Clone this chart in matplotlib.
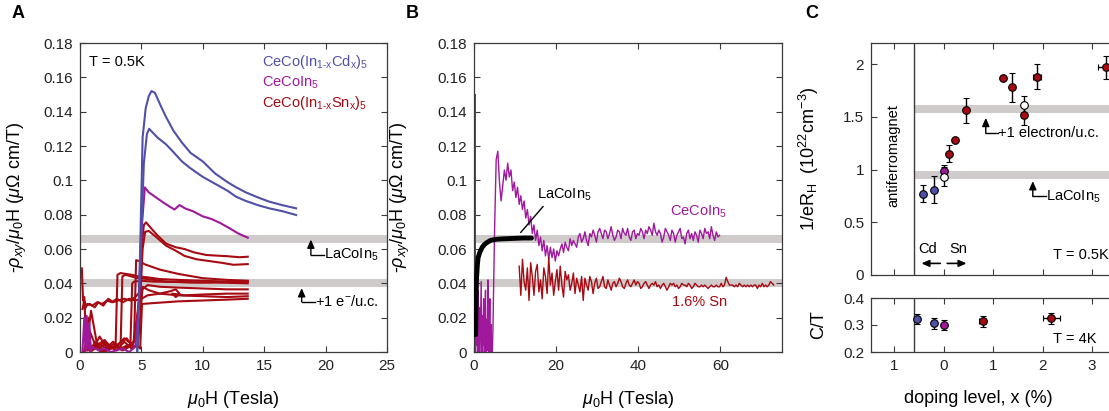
import matplotlib
matplotlib.use('Agg')
import matplotlib.pyplot as plt
import numpy as np
from matplotlib.ticker import FuncFormatter

plt.rcParams['font.family'] = ['Liberation Sans', 'DejaVu Sans']
plt.rcParams['mathtext.fontset'] = 'custom'
plt.rcParams['mathtext.rm'] = 'Liberation Sans'
plt.rcParams['mathtext.it'] = 'Liberation Sans:italic'
plt.rcParams['mathtext.bf'] = 'Liberation Sans:bold'

BLUE = '#5050a8'
PURPLE = '#a0189c'
RED = '#a60a12'
BAND = '#cfcbcb'
FRAME = '#3a3a3a'

# ---- panel A: field sweeps at 0.5 K (H in T, -rho_xy/mu0H in uOhm cm/T)
cd_hi_H = [4.65, 4.9, 5.1, 5.35, 5.6, 5.82, 6.1, 6.6, 7.0, 7.6, 8.3, 9.0, 10.0, 11.0, 12.0, 12.7, 13.5, 14.5, 15.4, 16.5, 17.6]
cd_hi_v = [-0.002, 0.06, 0.125, 0.142, 0.149, 0.152, 0.151, 0.143, 0.137, 0.129, 0.122, 0.116, 0.111, 0.104, 0.099, 0.096, 0.093, 0.090, 0.0876, 0.0855, 0.0837]
cd_lo_H = [4.65, 4.9, 5.2, 5.45, 5.63, 5.9, 6.3, 7.0, 7.58, 8.3, 9.0, 10.0, 11.0, 12.0, 12.7, 13.5, 14.5, 15.4, 16.5, 17.6]
cd_lo_v = [-0.002, 0.05, 0.11, 0.127, 0.130, 0.128, 0.125, 0.121, 0.1167, 0.111, 0.107, 0.102, 0.098, 0.094, 0.0905, 0.088, 0.0855, 0.0837, 0.082, 0.0798]

pure_A_H = [0.2, 0.35, 0.45, 0.55, 0.65, 0.75, 0.85, 1.0, 1.5, 2.0, 2.5, 3.0, 3.5, 4.0, 4.5, 4.8, 5.0, 5.28, 5.6, 6.2, 6.8, 7.3, 7.7, 8.1, 8.6, 9.2, 10.0, 10.7, 11.4, 12.2, 12.9, 13.66]
pure_A_v = [0.0, 0.02, 0.0, 0.021, 0.002, 0.017, 0.0, 0.003, 0.001, 0.002, 0.0, 0.001, 0.002, 0.0, 0.003, 0.03, 0.07, 0.0959, 0.093, 0.090, 0.087, 0.0847, 0.083, 0.0856, 0.0835, 0.082, 0.079, 0.0775, 0.0752, 0.072, 0.069, 0.0666]

sn_curves = [
    ([0.3, 0.6, 1.0, 1.5, 2.0, 2.5, 3.0, 3.5, 4.0, 4.4, 4.8, 5.0, 5.2, 5.38, 5.8, 6.3, 7.0, 7.8, 8.5, 9.3, 10.3, 11.0, 12.0, 13.0, 13.66],
     [0.0, 0.004, 0.001, 0.003, 0.0, 0.002, 0.004, 0.001, 0.003, 0.006, 0.03, 0.06, 0.074, 0.0755, 0.072, 0.068, 0.0632, 0.061, 0.060, 0.058, 0.0565, 0.0562, 0.0558, 0.0552, 0.0555]),
    ([0.4, 0.8, 1.3, 2.0, 2.8, 3.6, 4.3, 4.9, 5.1, 5.3, 5.6, 6.2, 7.0, 7.8, 8.5, 9.5, 10.5, 11.5, 12.5, 13.66],
     [0.002, 0.012, 0.003, 0.006, 0.002, 0.008, 0.004, 0.03, 0.06, 0.070, 0.0705, 0.067, 0.062, 0.059, 0.056, 0.054, 0.053, 0.052, 0.0508, 0.0512]),
    ([0.5, 1.0, 1.6, 2.2, 2.8, 3.4, 4.0, 4.4, 4.57, 4.8, 5.3, 6.5, 8.0, 10.0, 12.0, 13.66],
     [0.006, 0.001, 0.009, 0.002, 0.005, 0.001, 0.004, 0.006, 0.0535, 0.053, 0.051, 0.048, 0.0455, 0.043, 0.042, 0.0415]),
    ([0.15, 0.25, 0.35, 0.5, 0.7, 0.9, 1.2, 1.6, 2.0, 2.5, 2.9, 3.05, 3.3, 3.7, 4.2, 4.8, 5.5, 6.5, 8.0, 10.0, 12.0, 13.66],
     [0.0487, 0.03, 0.032, 0.005, 0.02, 0.0, 0.006, 0.002, 0.005, 0.002, 0.004, 0.045, 0.046, 0.0455, 0.045, 0.044, 0.0435, 0.0425, 0.042, 0.0415, 0.041, 0.041]),
    ([0.3, 0.6, 0.8, 1.3, 2.0, 2.7, 3.3, 3.45, 3.7, 4.2, 4.7, 5.5, 7.0, 9.0, 11.0, 13.66],
     [0.0, 0.008, 0.0, 0.004, 0.001, 0.003, 0.002, 0.044, 0.045, 0.044, 0.043, 0.0425, 0.041, 0.0405, 0.0405, 0.040]),
    ([0.2, 0.35, 0.5, 0.8, 1.2, 1.5, 1.9, 2.3, 2.7, 3.1, 3.6, 4.1, 4.5, 5.0, 5.5, 6.5, 8.0, 10.0, 12.0, 13.66],
     [0.025, 0.030, 0.027, 0.028, 0.026, 0.029, 0.027, 0.031, 0.029, 0.030, 0.031, 0.030, 0.032, 0.036, 0.039, 0.038, 0.0375, 0.037, 0.0365, 0.0365]),
    ([0.25, 0.4, 0.6, 1.0, 1.4, 1.8, 2.2, 2.6, 3.0, 3.5, 4.0, 4.5, 5.0, 5.5, 6.5, 7.4, 7.8, 8.1, 7.8, 7.5, 8.5, 10.0, 12.0, 13.66],
     [0.032, 0.025, 0.028, 0.027, 0.029, 0.028, 0.030, 0.029, 0.031, 0.029, 0.031, 0.030, 0.031, 0.033, 0.034, 0.0355, 0.0365, 0.034, 0.032, 0.034, 0.033, 0.0335, 0.034, 0.034]),
    ([0.5, 0.9, 1.4, 2.0, 2.6, 3.2, 3.8, 4.3, 4.7, 4.9, 5.1, 5.6, 6.5, 8.0, 10.0, 12.0, 13.66],
     [0.002, 0.024, 0.004, 0.007, 0.002, 0.005, 0.008, 0.003, 0.003, 0.02, 0.038, 0.036, 0.034, 0.033, 0.0325, 0.032, 0.0325]),
    ([0.6, 1.1, 1.7, 2.4, 3.0, 3.6, 4.2, 4.6, 4.9, 5.05, 6.0, 8.0, 10.0, 12.0, 13.66],
     [0.001, 0.004, 0.0, 0.003, 0.001, 0.006, 0.002, 0.004, 0.002, 0.028, 0.0285, 0.0295, 0.030, 0.0305, 0.031]),
    ([0.4, 0.9, 1.5, 2.1, 2.7, 3.3, 3.9, 4.1, 4.25, 4.4, 5.0, 6.0, 8.0, 10.0, 12.0, 13.66],
     [0.003, 0.001, 0.005, 0.002, 0.006, 0.002, 0.004, 0.003, 0.040, 0.041, 0.0415, 0.041, 0.0408, 0.0405, 0.0408, 0.0410]),
]

# ---- panel B: pulsed-field sweeps
pure_B_lowH = [0.1, 0.25, 0.3, 0.4, 0.55, 0.7, 0.85, 1.0, 1.15, 1.3, 1.45, 1.6, 1.75, 1.9, 2.05, 2.2,
               2.35, 2.5, 2.65, 2.8, 2.95, 3.1, 3.25, 3.4, 3.55, 3.7, 3.85, 4.0, 4.15, 4.3, 4.45]
pure_B_lowv = [0.0, 0.150, 0.0, 0.028, 0.004, 0.022, -0.005, 0.036, 0.0, 0.026, -0.004, 0.017, 0.041, -0.003, 0.021, 0.004,
               0.031, -0.005, 0.013, 0.036, -0.002, 0.019, 0.001, 0.042, -0.004, 0.011, 0.031, -0.003, 0.016, -0.002, 0.0]
pure_B_start, pure_B_step = 4.6, 0.4
pure_B_v = [
    0.012, 0.070, 0.112, 0.117, 0.099, 0.088, 0.097, 0.106, 0.100, 0.110,
    0.102, 0.106, 0.094, 0.099, 0.090, 0.096, 0.086, 0.091, 0.083, 0.088,
    0.078, 0.083, 0.074, 0.079, 0.069, 0.074, 0.065, 0.071, 0.062, 0.067,
    0.059, 0.065, 0.056, 0.062, 0.054, 0.061, 0.055, 0.060, 0.053, 0.059,
    0.056, 0.060, 0.063, 0.058, 0.064, 0.061, 0.059, 0.066, 0.062, 0.065,
    0.063, 0.061, 0.067, 0.069, 0.064, 0.066, 0.070, 0.065, 0.062, 0.069,
    0.067, 0.071, 0.068, 0.064, 0.070, 0.072, 0.069, 0.066, 0.071, 0.070,
    0.066, 0.069, 0.073, 0.068, 0.065, 0.067, 0.071, 0.070, 0.066, 0.072,
    0.069, 0.068, 0.072, 0.067, 0.065, 0.070, 0.071, 0.066, 0.069, 0.068,
    0.072, 0.070, 0.066, 0.071, 0.069, 0.073, 0.071, 0.068, 0.075, 0.070,
    0.068, 0.071, 0.069, 0.064, 0.067, 0.072, 0.070, 0.068, 0.065, 0.071,
    0.069, 0.064, 0.068, 0.070, 0.072, 0.066, 0.067, 0.063, 0.069, 0.071,
    0.066, 0.069, 0.065, 0.070, 0.068, 0.064, 0.071, 0.069, 0.066, 0.072,
    0.069, 0.070, 0.066, 0.073, 0.068, 0.065, 0.070, 0.067, 0.068,
]
sn16_start, sn16_step = 11.0, 0.4
sn16_v = [
    0.050, 0.033, 0.054, 0.041, 0.036, 0.049, 0.030, 0.052, 0.044, 0.033,
    0.047, 0.051, 0.035, 0.042, 0.031, 0.049, 0.044, 0.034, 0.055, 0.039,
    0.046, 0.033, 0.041, 0.048, 0.036, 0.050, 0.039, 0.032, 0.047, 0.042,
    0.045, 0.036, 0.040, 0.046, 0.034, 0.043, 0.039, 0.035, 0.044, 0.030,
    0.043, 0.039, 0.036, 0.044, 0.041, 0.034, 0.040, 0.043, 0.037, 0.038,
    0.041, 0.044, 0.038, 0.037, 0.042, 0.039, 0.036, 0.040, 0.041, 0.038,
    0.040, 0.043, 0.041, 0.038, 0.037, 0.040, 0.042, 0.039, 0.038, 0.040,
    0.042, 0.039, 0.041, 0.040, 0.037, 0.038, 0.040, 0.041, 0.039, 0.037,
    0.039, 0.040, 0.039, 0.041, 0.038, 0.039, 0.037, 0.039, 0.040, 0.038,
    0.036, 0.038, 0.040, 0.039, 0.040, 0.038, 0.039, 0.037, 0.038, 0.040,
    0.039, 0.039, 0.038, 0.040, 0.039, 0.037, 0.038, 0.040, 0.039, 0.038,
    0.038, 0.039, 0.038, 0.039, 0.038, 0.037, 0.038, 0.039, 0.038, 0.038,
    0.039, 0.038, 0.038, 0.040, 0.038, 0.039, 0.0435, 0.041, 0.039, 0.039,
    0.039, 0.038, 0.039, 0.038, 0.040, 0.039, 0.038, 0.039, 0.038, 0.039,
    0.038, 0.039, 0.038, 0.039, 0.039, 0.037, 0.039, 0.038, 0.040, 0.038,
    0.039, 0.038, 0.039, 0.041, 0.040, 0.039,
]
la_H = [0.4, 0.5, 0.6, 0.8, 1.0, 1.4, 2.0, 2.5, 3.0, 4.0, 5.0, 6.0, 8.0, 10.0, 12.0, 14.0]
la_v = [0.010, 0.030, 0.042, 0.050, 0.055, 0.058, 0.061, 0.0625, 0.0635, 0.065, 0.0655, 0.0658, 0.066, 0.0662, 0.0664, 0.0664]

# ---- panel C: carrier density and specific heat vs doping (Cd < 0 < Sn)
n_cd_x, n_cd_y, n_cd_err = [-0.41, -0.20], [0.77, 0.81], [0.08, 0.125]
n_pure_x, n_pure_y, n_pure_err = [0.0], [0.99], [0.05]
n_open_x, n_open_y, n_open_err = [0.0, 1.62], [0.93, 1.61], [0.09, 0.085]
n_sn_x = [0.10, 0.22, 0.44, 1.19, 1.37, 1.62, 1.88, 3.27]
n_sn_y = [1.15, 1.28, 1.56, 1.87, 1.78, 1.52, 1.88, 1.97]
n_sn_err = [0.08, 0.0, 0.12, 0.0, 0.14, 0.10, 0.12, 0.11]
n_sn_xerr = [0.0, 0.0, 0.0, 0.0, 0.0, 0.05, 0.08, 0.15]

ct_cd_x, ct_cd_y, ct_cd_xerr = [-0.55, -0.20], [0.322, 0.306], [0.03, 0.03]
ct_pure_x, ct_pure_y = [0.0], [0.300]
ct_sn_x, ct_sn_y, ct_sn_xerr = [0.79, 2.17], [0.314, 0.325], [0.07, 0.17]

doping_ticks = [-1, 0, 1, 2, 3]
doping_labels = ['1', '0', '1', '2', '3']

W, H = 1109, 411


def box(l, t, r, b):
    return [l / W, 1 - b / H, (r - l) / W, (b - t) / H]


def style(ax, right=True):
    for s in ax.spines.values():
        s.set_color(FRAME)
        s.set_linewidth(0.9)
    ax.tick_params(direction='in', length=4, width=0.8, color=FRAME,
                   top=True, right=right, labelsize=11, labelcolor='#222222', pad=5)


def gfmt(v, pos):
    return '%g' % v


def l_arrow(ax, tip, corner_y, end_x, text, color='black'):
    ax.annotate('', xy=tip, xytext=(tip[0], corner_y),
                arrowprops=dict(arrowstyle='-|>,head_length=0.5,head_width=0.22', color='black', lw=1.0,
                                shrinkA=0, shrinkB=0))
    ax.plot([tip[0], end_x], [corner_y, corner_y], color='black', lw=1.0)
    ax.text(end_x, corner_y, text, ha='left', va='center', fontsize=10.5, color=color)


fig = plt.figure(figsize=(W / 100, H / 100), dpi=100)
ylab = r'-$\rho_{xy}/\mu_0$H ($\mu\Omega$ cm/T)'

# ---- A
axA = fig.add_axes(box(80, 43, 387, 352))
style(axA)
axA.axhspan(0.0633, 0.0681, color=BAND, lw=0, zorder=0)
axA.axhspan(0.0377, 0.0423, color=BAND, lw=0, zorder=0)
for hh, vv in sn_curves:
    axA.plot(hh, vv, color=RED, lw=1.5, zorder=2)
axA.plot(pure_A_H, pure_A_v, color=PURPLE, lw=1.5, zorder=2)
axA.plot(cd_hi_H, cd_hi_v, color=BLUE, lw=1.5, zorder=3)
axA.plot(cd_lo_H, cd_lo_v, color=BLUE, lw=1.5, zorder=3)
axA.set_xlim(0, 25)
axA.set_ylim(0, 0.18)
axA.set_xticks([0, 5, 10, 15, 20, 25])
axA.set_yticks(np.arange(0, 0.181, 0.02))
axA.yaxis.set_major_formatter(FuncFormatter(gfmt))
axA.set_xlabel(r'$\mu_0$H (Tesla)', fontsize=13)
axA.set_ylabel(ylab, fontsize=13)
axA.xaxis.set_label_coords(0.5, -0.12)
axA.yaxis.set_label_coords(-0.165, 0.5)
axA.text(0.75, 0.169, 'T = 0.5K', fontsize=10.5, va='center')
axA.text(14.8, 0.169, r'CeCo(In$_{\mathrm{1\text{-}x}}$Cd$_\mathrm{x}$)$_5$', color=BLUE, fontsize=10.5, va='center')
axA.text(14.8, 0.157, r'CeCoIn$_5$', color=PURPLE, fontsize=10.5, va='center')
axA.text(14.8, 0.145, r'CeCo(In$_{\mathrm{1\text{-}x}}$Sn$_\mathrm{x}$)$_5$', color=RED, fontsize=10.5, va='center')
l_arrow(axA, (18.8, 0.0655), 0.0565, 19.9, r'LaCoIn$_5$')
l_arrow(axA, (18.05, 0.0372), 0.0293, 19.1, r'+1 e$^{-}$/u.c.')

# ---- B
axB = fig.add_axes(box(474, 43, 782, 352))
style(axB)
axB.axhspan(0.0633, 0.0681, color=BAND, lw=0, zorder=0)
axB.axhspan(0.0377, 0.0423, color=BAND, lw=0, zorder=0)
pure_B_H = pure_B_start + pure_B_step * np.arange(len(pure_B_v))
sn16_H = sn16_start + sn16_step * np.arange(len(sn16_v))
axB.plot(pure_B_lowH + list(pure_B_H), pure_B_lowv + pure_B_v, color=PURPLE, lw=1.0, zorder=2)
axB.plot(sn16_H, sn16_v, color=RED, lw=1.0, zorder=2)
axB.plot(la_H, la_v, color='black', lw=3.5, zorder=3, solid_capstyle='round')
axB.set_xlim(0, 75)
axB.set_ylim(0, 0.18)
axB.set_xticks([0, 20, 40, 60])
axB.set_yticks(np.arange(0, 0.181, 0.02))
axB.yaxis.set_major_formatter(FuncFormatter(gfmt))
axB.set_xlabel(r'$\mu_0$H (Tesla)', fontsize=13)
axB.set_ylabel(ylab, fontsize=13)
axB.xaxis.set_label_coords(0.5, -0.12)
axB.yaxis.set_label_coords(-0.2, 0.5)
axB.plot([11.4, 16.8], [0.0697, 0.0847], color='black', lw=1.0)
axB.text(15.4, 0.0914, r'LaCoIn$_5$', fontsize=10.5, va='center')
axB.text(47.8, 0.0815, r'CeCoIn$_5$', fontsize=10.5, va='center', color=PURPLE)
axB.text(48.3, 0.029, '1.6% Sn', fontsize=10.5, va='center', color=RED)

# ---- C (top): 1/eR_H
axC = fig.add_axes(box(871, 43, 1109, 275))
style(axC, right=False)
axC.spines['right'].set_visible(False)
xl = (-1.47, 3.34)
afm = -0.6
fr = (afm - xl[0]) / (xl[1] - xl[0])
axC.axhspan(1.535, 1.61, xmin=fr, xmax=1, color=BAND, lw=0, zorder=0)
axC.axhspan(0.915, 0.99, xmin=fr, xmax=1, color=BAND, lw=0, zorder=0)
axC.axvline(afm, color=FRAME, lw=1.0)
ekw = dict(fmt='o', ms=5.5, mec='black', mew=0.8, ecolor='black', elinewidth=1.0, capsize=2.2, capthick=1.0, zorder=3)
axC.errorbar(n_cd_x, n_cd_y, yerr=n_cd_err, mfc=BLUE, **ekw)
axC.errorbar(n_pure_x, n_pure_y, yerr=n_pure_err, mfc=PURPLE, **ekw)
axC.errorbar(n_sn_x, n_sn_y, yerr=n_sn_err, xerr=n_sn_xerr, mfc=RED, **ekw)
axC.errorbar(n_open_x, n_open_y, yerr=n_open_err, mfc='white', **ekw)
axC.set_xlim(*xl)
axC.set_ylim(0, 2.2)
axC.set_xticks(doping_ticks)
axC.set_xticklabels([])
axC.set_yticks([0, 0.5, 1, 1.5, 2])
axC.yaxis.set_major_formatter(FuncFormatter(gfmt))
axC.set_ylabel(r'1/eR$_\mathrm{H}$  (10$^{22}$cm$^{-3}$)', fontsize=13)
axC.yaxis.set_label_coords(-0.21, 0.5)
axC.text(-1.01, 1.13, 'antiferromagnet', rotation=90, ha='center', va='center', fontsize=10.5)
axC.text(-0.32, 0.245, 'Cd', ha='center', va='center', fontsize=10.5)
axC.text(0.30, 0.245, 'Sn', ha='center', va='center', fontsize=10.5)
akw = dict(arrowstyle='-|>,head_length=0.45,head_width=0.2', color='black', lw=1.2, shrinkA=0, shrinkB=0)
axC.annotate('', xy=(-0.45, 0.11), xytext=(-0.07, 0.11), arrowprops=akw)
axC.annotate('', xy=(0.46, 0.11), xytext=(0.07, 0.11), arrowprops=akw)
axC.text(2.2, 0.19, 'T = 0.5K', fontsize=10.5, va='center')
l_arrow(axC, (0.85, 1.49), 1.343, 1.10, '+1 electron/u.c.')
l_arrow(axC, (1.80, 0.89), 0.745, 2.07, r'LaCoIn$_5$')

# ---- C (bottom): C/T
axD = fig.add_axes(box(871, 298, 1109, 352))
style(axD, right=False)
axD.spines['right'].set_visible(False)
axD.axvline(afm, color=FRAME, lw=1.0)
axD.errorbar(ct_cd_x, ct_cd_y, yerr=0.02, xerr=ct_cd_xerr, mfc=BLUE, **ekw)
axD.errorbar(ct_pure_x, ct_pure_y, yerr=0.02, mfc=PURPLE, **ekw)
axD.errorbar(ct_sn_x, ct_sn_y, yerr=0.02, xerr=ct_sn_xerr, mfc=RED, **ekw)
axD.set_xlim(*xl)
axD.set_ylim(0.2, 0.4)
axD.set_xticks(doping_ticks)
axD.set_xticklabels(doping_labels)
axD.set_yticks([0.2, 0.3, 0.4])
axD.yaxis.set_major_formatter(FuncFormatter(gfmt))
axD.set_ylabel('C/T', fontsize=13)
axD.yaxis.set_label_coords(-0.185, 0.5)
axD.set_xlabel('doping level, x (%)', fontsize=13)
axD.xaxis.set_label_coords(0.45, -0.7)
axD.text(2.2, 0.247, 'T = 4K', fontsize=10.5, va='center')

# panel letters
for x, letter in [(18, 'A'), (412, 'B'), (812, 'C')]:
    fig.text(x / W, 1 - 13 / H, letter, fontsize=13, fontweight='bold', ha='center', va='center')

fig.savefig('out.png', dpi=100)
